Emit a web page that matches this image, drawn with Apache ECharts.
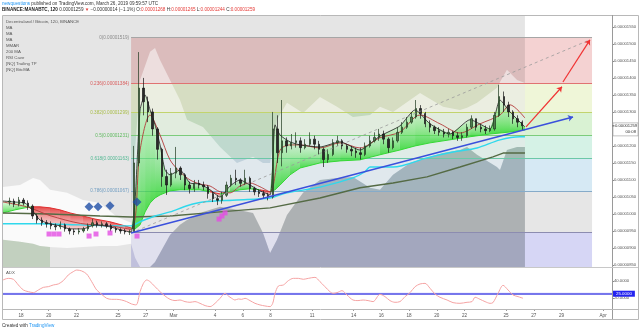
<!DOCTYPE html>
<html><head><meta charset="utf-8">
<script src="https://cdn.jsdelivr.net/npm/echarts@6/dist/echarts.min.js"></script>
<style>html,body{margin:0;padding:0;background:#fff;}#c{width:640px;height:332px;}</style>
</head><body><div id="c"></div>
<script>
// ---------- DATA (days since Feb 18 on x, satoshi (1e-8 BTC) on y) ----------
const tickDays   = [0,2,4,7,9,11,14,16,18,21,24,26,28,30,32,35,37,39,42];
const tickLabels = ['18','20','22','25','27','Mar','4','6','8','11','14','16','18','20','22','25','27','29','Apr'];
const priceTicks = [850,900,950,1000,1050,1100,1150,1200,1300,1350,1400,1450,1500,1550];
const adxTicks   = [20,40];
const lastPrice  = 1259;

const candleStartDay = -1, candleStepDays = 1/3;   // 8h candles
const ohlc = [
 [1035,1038,1025,1048],[1038,1029,1020,1045],[1029,1041,1022,1050],[1041,1032,1025,1047],[1032,1023,1012,1040],
 [1023,994,985,1028],[994,982,972,1000],[982,974,965,990],[974,971,960,982],[971,965,955,978],
 [965,962,952,972],[962,968,955,978],[968,956,948,972],[956,950,940,960],[950,947,938,956],
 [947,950,940,958],[950,956,945,962],[956,965,950,972],[965,974,960,985],[974,968,960,980],
 [968,971,960,978],[971,965,958,976],[965,956,948,970],[956,953,945,962],[953,950,942,958],
 [950,947,940,956],[947,947,938,954],[947,1150,944,1200],[1150,1370,1140,1476],[1370,1330,1290,1400],
 [1330,1300,1270,1345],[1300,1250,1230,1310],[1250,1190,1160,1255],[1190,1110,1080,1195],[1110,1085,1056,1130],
 [1085,1120,1080,1135],[1120,1135,1105,1197],[1135,1115,1100,1140],[1115,1085,1070,1120],[1085,1075,1060,1095],
 [1075,1090,1065,1100],[1090,1085,1075,1100],[1085,1080,1070,1095],[1080,1060,1045,1085],[1060,1045,1035,1065],
 [1045,1040,1026,1055],[1040,1055,1030,1065],[1055,1085,1050,1095],[1085,1105,1080,1115],[1105,1100,1085,1130],
 [1100,1090,1080,1105],[1090,1105,1085,1130],[1105,1075,1065,1110],[1075,1065,1055,1080],[1065,1060,1050,1072],
 [1060,1055,1045,1068],[1055,1050,1040,1062],[1050,1250,1045,1300],[1250,1180,1150,1290],[1180,1215,1140,1335],
 [1215,1200,1180,1225],[1200,1210,1190,1235],[1210,1215,1195,1240],[1215,1195,1180,1225],[1195,1205,1190,1220],
 [1205,1220,1200,1240],[1220,1205,1190,1230],[1205,1190,1175,1215],[1190,1160,1138,1195],[1160,1175,1150,1190],
 [1175,1210,1170,1220],[1210,1215,1200,1230],[1215,1200,1190,1220],[1200,1190,1180,1205],[1190,1185,1170,1200],
 [1185,1180,1165,1195],[1180,1175,1160,1195],[1175,1200,1170,1210],[1200,1215,1195,1230],[1215,1225,1210,1240],
 [1225,1235,1215,1250],[1235,1220,1205,1245],[1220,1195,1180,1225],[1195,1215,1190,1225],[1215,1240,1210,1255],
 [1240,1255,1235,1270],[1255,1270,1250,1285],[1270,1285,1265,1300],[1285,1310,1280,1335],[1310,1295,1280,1320],
 [1295,1265,1255,1300],[1265,1255,1240,1275],[1255,1245,1235,1260],[1245,1240,1230,1255],[1240,1235,1225,1250],
 [1235,1240,1225,1250],[1240,1230,1220,1245],[1230,1225,1215,1240],[1225,1230,1215,1240],[1230,1255,1225,1265],
 [1255,1280,1250,1290],[1280,1255,1245,1280],[1255,1250,1240,1265],[1250,1245,1235,1260],[1245,1250,1240,1260],
 [1250,1290,1245,1300],[1290,1345,1285,1380],[1345,1320,1300,1360],[1320,1300,1285,1330],[1300,1280,1265,1305],
 [1280,1270,1255,1290],[1270,1259,1244,1275]
];

// MMAR ribbon: [day, fast, slow]
const ribbon = [
 [-1.3,1038,1003],[-0.43,1035,1012],[0.29,1032,1018],[0.79,1012,1021],[1.37,982,1021],[2.09,971,1018],
 [2.81,965,1012],[3.54,956,1003],[4.47,956,994],[5.34,968,985],[6.42,962,977],[7.5,950,965],[7.94,947,959],
 [8.23,1041,956],[8.59,1306,968],[8.95,1350,1006],[9.31,1306,1032],[9.67,1262,1047],[10.03,1203,1056],
 [10.39,1129,1062],[10.75,1115,1068],[11.47,1129,1071],[12.19,1091,1071],[12.91,1088,1071],[13.64,1071,1065],
 [14.36,1050,1059],[15.08,1082,1065],[15.8,1100,1071],[16.52,1085,1074],[17.24,1068,1071],[17.97,1056,1065],
 [18.33,1262,1071],[18.69,1232,1085],[19.41,1212,1115],[20.13,1203,1135],[21.57,1197,1150],[23.02,1212,1156],
 [24.46,1188,1159],[25.9,1229,1174],[27.34,1259,1188],[28.43,1306,1200],[29.51,1265,1209],[30.95,1235,1218],
 [32.4,1277,1227],[33.84,1250,1235],[34.56,1335,1238],[35.28,1300,1241],[36.36,1256,1247]
];
const maRed = [
 [-1.3,1035],[0.5,1020],[2.1,995],[4.3,972],[6.4,965],[7.94,955],[8.59,1188],[9.31,1291],[10.03,1232],
 [10.75,1159],[11.47,1124],[12.19,1100],[12.91,1088],[13.64,1082],[14.36,1065],[15.08,1062],[15.8,1082],
 [16.52,1091],[17.24,1080],[17.97,1065],[18.69,1188],[19.41,1203],[20.13,1203],[21.57,1194],[23.02,1209],
 [24.46,1194],[25.9,1224],[27.34,1241],[28.79,1291],[30.23,1265],[31.67,1238],[33.12,1265],[34.56,1291],
 [35.28,1321],[36.36,1282]
];
const maCyan = [
 [-1.3,971],[1.37,971],[4.26,968],[7.14,965],[7.94,965],[8.59,977],[9.67,994],[10.75,1006],[11.98,1024],
 [13.13,1035],[15.58,1041],[17.97,1047],[19.19,1062],[21.57,1079],[23.95,1106],[24.82,1124],[25.18,1138],
 [25.9,1138],[26.84,1138],[29.29,1165],[31.17,1182],[32.9,1194],[34.56,1218],[36.0,1227],[36.36,1227]
];
const ma200 = [
 [-1.3,1003],[2.09,1000],[5.7,994],[7.94,991],[10.75,994],[14.36,1006],[17.97,1018],[21.57,1047],
 [24.46,1077],[26.84,1091],[29.29,1109],[31.67,1138],[34.05,1168],[34.78,1179],[36.36,1179]
];
// RSI cave envelope: [day, upper, lower]
const cloudLeft = [
 [-1.3,1079,924],[-0.07,1085,918],[0.87,1106,912],[1.37,1100,906],[2.09,1071,903],[3.32,1062,900],
 [4.47,1041,903],[5.7,1032,906],[6.93,991,906],[7.94,974,912]
];
const cloudMain = [
 [7.94,974,912],[8.23,1188,871],[8.59,1394,844],[9.31,1477,844],[9.67,1488,859],[10.03,1453,885],
 [10.75,1394,938],[11.47,1335,968],[11.98,1277,982],[13.13,1256,1006],[14.36,1197,1021],[15.58,1150,1012],
 [16.74,1168,1003],[17.46,1150,944],[17.97,1150,885],[18.47,1277,924],[19.19,1327,997],[20.35,1297,1062],
 [21.57,1344,1100],[22.8,1315,1106],[23.95,1285,1109],[25.18,1291,1077],[25.9,1315,1071],[26.84,1300,1115],
 [28.07,1335,1150],[28.79,1356,1159],[30.45,1315,1179],[31.67,1306,1188],[32.18,1312,1197],[32.9,1327,1174],
 [34.34,1371,1138],[34.56,1388,1129],[35.06,1424,1188],[35.79,1394,1197],[36.36,1385,1197]
];
const fibStartDay = 7.94, fibEndDay = 41.2;
const fibPrices = [1519,1384,1299,1231,1163,1067,946];
const fibLabels = ['0(0.00001519)','0.236(0.00001384)','0.382(0.00001299)','0.5(0.00001231)','0.618(0.00001163)','0.786(0.00001067)',''];
const grayBoxDays = [-1.3, 36.36];
const trendBlue  = [[7.94,944],[39.83,1285]];
const trendDash  = [[7.94,944],[41.05,1512]];
const arrowRed1  = [[36.44,1256],[39.03,1374]];
const arrowRed2  = [[39.1,1388],[41.05,1512]];
const diamonds = [[4.91,1021],[5.56,1021],[6.42,1024],[8.37,1035]];
const squares  = [[2.02,941],[2.38,941],[2.74,941],[4.91,935],[5.41,941],[6.42,944],[8.37,935],[14.29,985],[14.5,994],[14.72,1003]];
const adx = [
 [-1.3,41.2],[-0.92,43.1],[-0.55,42],[-0.19,35.3],[0.17,29.4],[0.53,27.4],[0.89,26.3],[1.25,29.4],[1.61,32.5],
 [1.97,33.3],[2.33,35.3],[2.69,36.5],[3.05,40.4],[3.41,47.1],[3.77,51],[4.02,52.9],[4.38,51.8],[4.74,48.2],
 [5.1,39.2],[5.46,29.4],[5.82,24.3],[6.18,19.6],[6.54,18.4],[6.9,18.4],[7.26,17.6],[7.62,15.7],[7.98,12.9],
 [8.3,11.8],[8.59,27.4],[8.83,37.2],[9.07,41.2],[9.31,39.2],[9.67,33.3],[10.03,27.4],[10.39,22.3],[10.75,18.4],
 [11.11,16.9],[11.47,17.6],[11.83,15.7],[12.19,14.9],[12.55,15.7],[12.91,13.7],[13.28,11],[13.64,9.8],[14.0,13.7],
 [14.36,19.6],[14.72,25.5],[14.96,22.3],[15.2,19.6],[15.44,17.6],[15.68,18.8],[15.92,18.4],[16.16,19.6],
 [16.52,16.9],[16.88,13.7],[17.24,11.8],[17.6,10.6],[17.97,9.8],[18.16,13.7],[18.33,25.5],[18.57,34.1],
 [18.93,35.3],[19.29,40.4],[19.65,43.1],[20.01,43.1],[20.37,42],[20.73,43.1],[21.21,44.3],[21.57,39.2],
 [21.93,33.3],[22.29,27.4],[22.51,25.5],[22.8,26.3],[23.16,28.6],[23.52,23.5],[23.95,17.6],[24.31,16.9],
 [24.68,17.6],[25.04,16.9],[25.4,15.7],[25.9,24.3],[26.26,21.6],[26.62,16.9],[26.98,14.9],[27.34,15.7],
 [27.71,21.6],[28.07,26.3],[28.43,33.3],[28.79,36.5],[29.15,37.2],[29.51,31.4],[29.87,24.7],[30.23,20.8],
 [30.74,17.6],[31.17,14.5],[31.67,13.7],[32.18,14.9],[32.54,15.7],[32.76,20.8],[33.12,18.4],[33.48,15.7],
 [33.84,13.7],[34.05,14.5],[34.42,25.5],[34.78,34.9],[35.14,29.4],[35.5,23.5],[35.86,21.6],[36.22,19.6]
];
const adxLevel = 25;
const legendLines = ['Decentraland / Bitcoin, 120, BINANCE','MA','MA','MA','MMAR','200 MA','RSI Cave','[NQ] Trailing TP','[NQ] BitcMA'];

// ---------- CONFIG ----------
const dayMin = -1.3, dayMax = 42.64, priceMin = 844, priceMax = 1585, adxMin = 7, adxMax = 55.3;
const FONT = 'Liberation Sans, Arial, sans-serif';
const fibLineColors = ['#a6a6a6','#e07272','#c2d46e','#7ccc7c','#6cc8a8','#86abc9','#8c8cb0'];
const fibTextColors = ['#8a8a8a','#d85a5a','#a8bc48','#5cb85c','#4fb690','#6f9cc0','#777'];
const fibBandColors = ['#f4d2d2','#eff6d8','#d9f2d3','#d5f2e6','#d6e9f4','#e6e6e6','#d6d6f5'];

const chart = echarts.init(document.getElementById('c'), null, {renderer:'canvas', width:640, height:332});

function polySeries(points, fill, z) {
  return {
    type:'custom', xAxisIndex:0, yAxisIndex:0, clip:true, silent:true, z:z,
    data: points, encode:{x:0, y:[1,2]},
    renderItem: function(params, api) {
      if (params.dataIndex !== 0) return null;
      const top = points.map(p => api.coord([p[0], p[1]]));
      const bot = points.slice().reverse().map(p => api.coord([p[0], p[2]]));
      return {type:'polygon', shape:{points: top.concat(bot)}, style:{fill: fill}};
    }
  };
}
function ribbonRender(params, api) {
  const i = params.dataIndex;
  if (i >= ribbon.length - 1) return null;
  const a = ribbon[i], b = ribbon[i + 1];
  const f1 = api.coord([a[0], a[1]]), f2 = api.coord([b[0], b[1]]);
  const s2 = api.coord([b[0], b[2]]), s1 = api.coord([a[0], a[2]]);
  const bull = (a[1] + b[1]) >= (a[2] + b[2]);
  const fill = bull
    ? new echarts.graphic.LinearGradient(0,0,0,1,[{offset:0,color:'rgba(170,240,170,0.35)'},{offset:1,color:'rgba(40,215,40,0.8)'}])
    : new echarts.graphic.LinearGradient(0,0,0,1,[{offset:0,color:'rgba(225,40,40,0.85)'},{offset:1,color:'rgba(240,140,140,0.4)'}]);
  return {type:'group', children:[
    {type:'polygon', shape:{points:[f1,f2,s2,s1]}, style:{fill:fill}},
    {type:'line', shape:{x1:s1[0],y1:s1[1],x2:s2[0],y2:s2[1]}, style:{stroke: bull ? '#35d835' : '#e03030', lineWidth:1}}
  ]};
}

const fibBandData = [];
for (let i = 0; i < fibPrices.length; i++) {
  const lo = i + 1 < fibPrices.length ? fibPrices[i + 1] : priceMin;
  fibBandData.push([{xAxis: fibStartDay, yAxis: fibPrices[i], itemStyle:{color: fibBandColors[i]}}, {xAxis: fibEndDay, yAxis: lo}]);
}
const fibLineData = fibPrices.map((p, i) => [
  {coord:[fibStartDay, p], lineStyle:{color: fibLineColors[i]},
   label:{show: fibLabels[i] !== '', formatter: fibLabels[i], color: fibTextColors[i]}},
  {coord:[fibEndDay, p]}
]);

const caveLeft = cloudLeft.filter(p => p[0] <= 2.1).map(p => [p[0], p[2], priceMin]);
const caveMain = cloudMain.filter(p => p[0] >= 8.59).map(p => [p[0], p[2], priceMin]);

const option = {
  animation:false,
  textStyle:{fontFamily: FONT},
  title:[
    {left:2, top:1.5, padding:0, text:'{u|newquestions} published on TradingView.com, March 26, 2019 09:59:57 UTC',
     textStyle:{fontSize:4.6, color:'#333', fontWeight:'normal', fontFamily:FONT, rich:{u:{fontSize:4.6, color:'#2196f3', fontFamily:FONT}}}},
    {left:2, top:7.5, padding:0, text:'{b|BINANCE:MANABTC, 120} 0.00001259 {r|▼} −0.00000014 (−1.1%) O:{r|0.00001268} H:{r|0.00001265} L:{r|0.00001244} C:{r|0.00001259}',
     textStyle:{fontSize:4.6, color:'#333', fontWeight:'normal', fontFamily:FONT, rich:{b:{fontSize:4.6, fontWeight:'bold', color:'#222', fontFamily:FONT}, r:{fontSize:4.6, color:'#e53935', fontFamily:FONT}}}},
    {left:6, top:18.5, padding:0, text: legendLines.join('\n'),
     textStyle:{fontSize:4.3, lineHeight:6.05, color:'#555', fontWeight:'normal', fontFamily:FONT}},
    {left:6, top:270.5, padding:0, text:'ADX', textStyle:{fontSize:4.3, color:'#555', fontWeight:'normal', fontFamily:FONT}},
    {left:2, top:323.5, padding:0, text:'Created with {t|TradingView}',
     textStyle:{fontSize:4.6, color:'#333', fontWeight:'normal', fontFamily:FONT, rich:{t:{fontSize:4.6, color:'#2196f3', fontFamily:FONT}}}}
  ],
  grid:[
    {left:3, right:28, top:15, height:252},
    {left:3, right:28, top:268, height:41}
  ],
  xAxis:[
    {type:'value', gridIndex:0, min:dayMin, max:dayMax, show:false},
    {type:'value', gridIndex:1, min:dayMin, max:dayMax,
     axisLine:{show:false, onZero:false}, splitLine:{show:false},
     axisTick:{show:true, customValues: tickDays, length:2, lineStyle:{color:'#999'}},
     axisLabel:{customValues: tickDays, formatter: v => tickLabels[tickDays.indexOf(v)] || '', fontSize:4.6, color:'#555', margin:4}}
  ],
  yAxis:[
    {type:'value', gridIndex:0, position:'right', min:priceMin, max:priceMax,
     axisLine:{show:false, onZero:false}, splitLine:{show:false},
     axisTick:{show:true, customValues: priceTicks, length:2, lineStyle:{color:'#888'}},
     axisLabel:{customValues: priceTicks, formatter: v => (v * 1e-8).toFixed(8), fontSize:4.2, color:'#555', margin:2}},
    {type:'value', gridIndex:1, position:'right', min:adxMin, max:adxMax,
     axisLine:{show:false, onZero:false}, splitLine:{show:false},
     axisTick:{show:true, customValues: adxTicks, length:2, lineStyle:{color:'#888'}},
     axisLabel:{customValues: adxTicks, formatter: v => v.toFixed(4), fontSize:4.2, color:'#555', margin:2}}
  ],
  series:[
    {type:'line', xAxisIndex:0, yAxisIndex:0, data:[[dayMin, priceMin]], symbol:'none', lineStyle:{opacity:0}, z:1, silent:true,
     markArea:{silent:true, itemStyle:{opacity:1}, data: fibBandData}},
    {type:'line', xAxisIndex:0, yAxisIndex:0, data:[[dayMin, priceMin]], symbol:'none', lineStyle:{opacity:0}, z:2, silent:true,
     markArea:{silent:true, itemStyle:{color:'rgba(0,0,0,0.1)'}, data:[[{xAxis: grayBoxDays[0]}, {xAxis: grayBoxDays[1]}]]}},
    polySeries(cloudLeft, 'rgba(255,255,255,0.8)', 3),
    polySeries(cloudMain, 'rgba(255,255,255,0.5)', 3),
    polySeries(caveLeft, 'rgba(100,150,90,0.28)', 3),
    polySeries(caveMain, 'rgba(70,88,95,0.24)', 3),
    {type:'line', xAxisIndex:0, yAxisIndex:0, data:[[dayMin, priceMin]], symbol:'none', lineStyle:{opacity:0}, z:4, silent:true,
     markLine:{silent:true, symbol:['none','none'], lineStyle:{type:'solid', width:1},
       label:{position:'start', fontSize:4.6, distance:2, fontFamily:FONT}, data: fibLineData}},
    {type:'custom', xAxisIndex:0, yAxisIndex:0, clip:true, silent:true, z:5, data: ribbon, encode:{x:0, y:[1,2]}, renderItem: ribbonRender},
    {type:'line', xAxisIndex:0, yAxisIndex:0, data: ma200, symbol:'none', z:6, lineStyle:{color:'#556b45', width:1.4}},
    {type:'line', xAxisIndex:0, yAxisIndex:0, data: maCyan, symbol:'none', z:6, smooth:0.3, lineStyle:{color:'#2fd8ec', width:1.4}},
    {type:'line', xAxisIndex:0, yAxisIndex:0, data: maRed, symbol:'none', z:7, smooth:0.3, lineStyle:{color:'#b33a3a', width:0.9}},
    {type:'line', xAxisIndex:0, yAxisIndex:0, data: ribbon.map(r => [r[0], r[1]]), symbol:'none', z:7, smooth:0.2, lineStyle:{color:'#1d1d1d', width:0.8}},
    {type:'candlestick', xAxisIndex:0, yAxisIndex:0, z:8, barWidth:1.9,
     data: ohlc.map((v, i) => [candleStartDay + (i + 0.5) * candleStepDays, v[0], v[1], v[2], v[3]]),
     encode:{x:0, y:[1,2,3,4]},
     itemStyle:{color:'#4d7d4d', color0:'#2a2a2a', borderColor:'#1f3a1f', borderColor0:'#151515', borderWidth:0.7}},
    {type:'lines', coordinateSystem:'cartesian2d', xAxisIndex:0, yAxisIndex:0, z:9, silent:true,
     data:[{coords: trendDash}], symbol:['none','none'], lineStyle:{color:'#9a9a9a', width:0.8, type:[3,3], opacity:1}},
    {type:'lines', coordinateSystem:'cartesian2d', xAxisIndex:0, yAxisIndex:0, z:9, silent:true,
     data:[{coords: trendBlue}], symbol:['none','arrow'], symbolSize:5, lineStyle:{color:'#3a50dc', width:1.4, opacity:1}},
    {type:'lines', coordinateSystem:'cartesian2d', xAxisIndex:0, yAxisIndex:0, z:9, silent:true,
     data:[{coords: arrowRed1}, {coords: arrowRed2}], symbol:['none','arrow'], symbolSize:5, lineStyle:{color:'#f03333', width:1.2, opacity:1}},
    {type:'scatter', xAxisIndex:0, yAxisIndex:0, z:10, data: diamonds, symbol:'diamond', symbolSize:[9,9], itemStyle:{color:'#1f4fa6'}},
    {type:'scatter', xAxisIndex:0, yAxisIndex:0, z:10, data: squares, symbol:'rect', symbolSize:[5,5], itemStyle:{color:'#e34ee3'}},
    {type:'line', xAxisIndex:1, yAxisIndex:1, data: adx, symbol:'none', smooth:0.3, z:5, lineStyle:{color:'#f5a3a3', width:1},
     markArea:{silent:true, itemStyle:{color:'rgba(200,200,255,0.35)'}, data:[[{yAxis: adxLevel}, {yAxis: adxLevel + 1.8}]]},
     markLine:{silent:true, symbol:['none','none'], lineStyle:{color:'#4b4be6', width:1.5, type:'solid'},
       label:{position:'end', distance:1, formatter: p => p.value.toFixed(4), color:'#fff', backgroundColor:'#2323f0',
              fontSize:4.4, padding:[1,3,1,3], fontFamily:FONT},
       data:[{yAxis: adxLevel}]}}
  ]
};
chart.setOption(option);

// frame + current price tag (positions through the axis scale)
const py = chart.convertToPixel({yAxisIndex:0}, lastPrice);
chart.setOption({graphic:[
  {type:'rect', shape:{x:2.5, y:15.5, width:636, height:304}, style:{fill:'none', stroke:'#b8b8b8', lineWidth:1}, silent:true, z:100},
  {type:'line', shape:{x1:612.5, y1:15, x2:612.5, y2:319}, style:{stroke:'#9a9a9a', lineWidth:1}, silent:true, z:100},
  {type:'line', shape:{x1:3, y1:267.5, x2:638, y2:267.5}, style:{stroke:'#c8c8c8', lineWidth:1}, silent:true, z:100},
  {type:'line', shape:{x1:3, y1:309.5, x2:638, y2:309.5}, style:{stroke:'#b8b8b8', lineWidth:1}, silent:true, z:100},
  {type:'rect', shape:{x:613, y:py - 3, width:25, height:13}, style:{fill:'#fff', stroke:'#9a9a9a', lineWidth:0.6}, silent:true, z:101},
  {type:'line', shape:{x1:612.5, y1:py, x2:614.5, y2:py}, style:{stroke:'#555', lineWidth:1}, silent:true, z:102},
  {type:'text', x:615, y:py, style:{text:(lastPrice * 1e-8).toFixed(8), fontSize:4.2, fill:'#333', fontFamily:FONT, verticalAlign:'middle'}, silent:true, z:102},
  {type:'text', x:636, y:py + 6, style:{text:'00:08', fontSize:4.2, fill:'#333', fontFamily:FONT, align:'right', verticalAlign:'middle'}, silent:true, z:102}
]});
</script></body></html>
